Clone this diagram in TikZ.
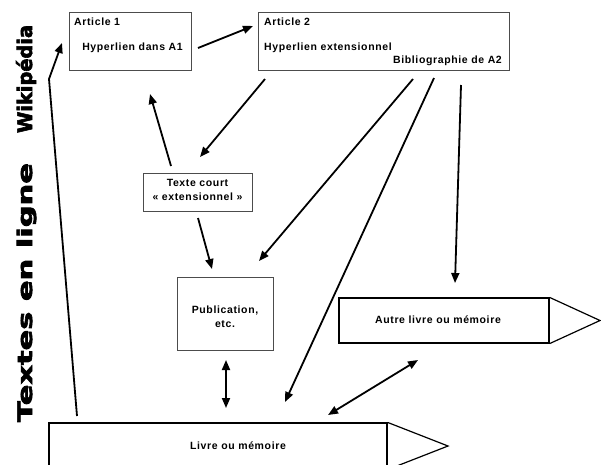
\documentclass[tikz,border=0pt]{standalone}
\usepackage{fontspec}
\usepackage{graphicx}
\usetikzlibrary{arrows.meta}
\newfontfamily\lab{Liberation Sans}[LetterSpace=6]
\newfontfamily\heavy{DejaVu Sans}[FakeBold=3]
\begin{document}
\begin{tikzpicture}[x=1pt,y=-1pt,
  thinbox/.style={draw=black!70, line width=0.9pt, inner sep=0pt},
  bookbox/.style={draw=black, line width=1.2pt, inner sep=0pt},
  lbl/.style={inner sep=0pt, font=\lab\bfseries\fontsize{10.5}{14}\selectfont},
  title/.style={inner sep=0pt, rotate=90, anchor=base, font=\heavy\bfseries\fontsize{20}{24}\selectfont},
  arr/.style={line width=1.8pt, -{Triangle[length=10pt,width=8pt]}},
  darr/.style={line width=1.8pt, {Triangle[length=10pt,width=8pt]}-{Triangle[length=10pt,width=8pt]}}]
\useasboundingbox (0,0) rectangle (601,464);
\clip (0,0) rectangle (601,464);
% vertical titles
\node[title] (wiki) at (32,79) {\resizebox{108pt}{\height}{Wikipédia}};
\node[title] (ligne) at (32,292.5) {\resizebox{259pt}{\height}{Textes en ligne}};
% boxes
\node[thinbox, minimum width=122pt, minimum height=58pt] (A1) at (130,41) {};
\node[thinbox, minimum width=251pt, minimum height=58pt] (A2) at (383.5,41) {};
\node[thinbox, minimum width=109pt, minimum height=38pt] (TC) at (197.5,192) {};
\node[thinbox, minimum width=96pt, minimum height=73pt] (Pub) at (225,313.5) {};
\node[bookbox, minimum width=210pt, minimum height=45pt] (Autre) at (444,320.5) {};
\node[bookbox, minimum width=338pt, minimum height=46pt] (Livre) at (218,446) {};
\draw[line width=1.2pt] (Autre.north east) -- (600,320.5) -- (Autre.south east);
\draw[line width=1.2pt] (Livre.north east) -- (448,446) -- (Livre.south east);
% texts
\node[lbl, anchor=west] (tA1) at (74,22) {Article 1};
\node[lbl] (hA1) at (132.5,48) {Hyperlien dans A1};
\node[lbl, anchor=west] (tA2) at (264,22) {Article 2};
\node[lbl, anchor=west] (hA2) at (264,48) {Hyperlien extensionnel};
\node[lbl, anchor=east] (bA2) at (502,61) {Bibliographie de A2};
\node[lbl, align=center] (tTC) at (197.5,190) {Texte court\\« extensionnel »};
\node[lbl, align=center] (tPub) at (225,317) {Publication,\\etc.};
\node[lbl] (tAutre) at (438,320) {Autre livre ou mémoire};
\node[lbl] (tLivre) at (238,446) {Livre ou mémoire};
% arrow end points
\coordinate (p1a) at (198,48);  \coordinate (p1b) at (253,26);
\coordinate (p2a) at (265,79);  \coordinate (p2b) at (200,157);
\coordinate (p3a) at (171,166); \coordinate (p3b) at (150,94);
\coordinate (p4a) at (198,218); \coordinate (p4b) at (212,269);
\coordinate (p5a) at (413,79);  \coordinate (p5b) at (259,261);
\coordinate (p6a) at (434,78);  \coordinate (p6b) at (285,402);
\coordinate (p7a) at (461,85);  \coordinate (p7b) at (455,283);
\coordinate (p8a) at (226,360); \coordinate (p8b) at (226,408);
\coordinate (p9a) at (418,360); \coordinate (p9b) at (328,415);
\coordinate (p10a) at (77,416); \coordinate (p10m) at (49,79); \coordinate (p10b) at (62,43);
% arrows
\draw[arr] (p1a) -- (p1b);
\draw[arr] (p2a) -- (p2b);
\draw[arr] (p3a) -- (p3b);
\draw[arr] (p4a) -- (p4b);
\draw[arr] (p5a) -- (p5b);
\draw[arr] (p6a) -- (p6b);
\draw[arr] (p7a) -- (p7b);
\draw[darr] (p8a) -- (p8b);
\draw[darr] (p9a) -- (p9b);
\draw[arr] (p10a) -- (p10m) -- (p10b);
\end{tikzpicture}
\end{document}
